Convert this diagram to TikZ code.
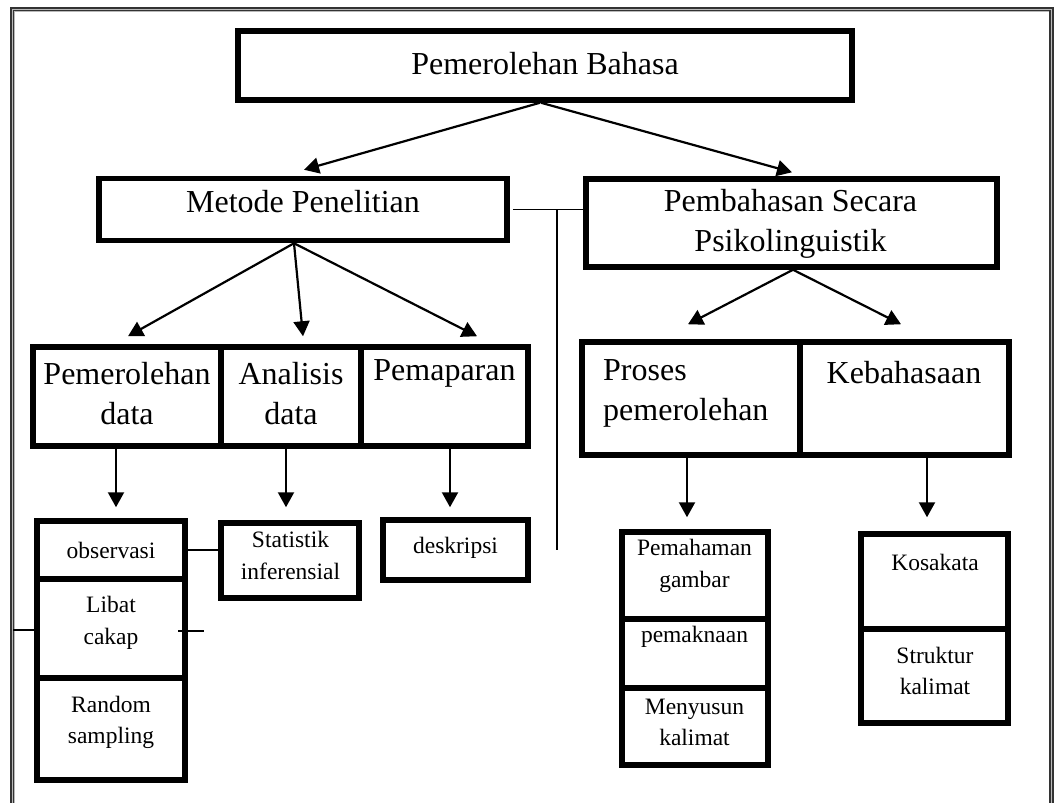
\documentclass[tikz,border=0pt]{standalone}
\usepackage{fontspec}
\setmainfont{Liberation Serif}
\usetikzlibrary{arrows.meta}
\begin{document}
\begin{tikzpicture}[x=1pt,y=-1pt,
  box/.style={draw, line width=5.5pt, inner sep=0pt},
  big/.style={font=\fontsize{32}{40}\selectfont, align=center, inner sep=0pt},
  small/.style={font=\fontsize{23.5}{31.5}\selectfont, align=center, inner sep=0pt},
  arr/.style={line width=2.2pt, -{Triangle[length=15pt,width=16pt]}},
  thinline/.style={line width=1.6pt}]
\clip (0,0) rectangle (1063,803);
\fill[white] (0,0) rectangle (1063,803);
% outer double frame
\draw[line width=4.5pt, gray!55] (12.25,820) -- (12.25,9.25) -- (1051.5,9.25) -- (1051.5,820);
\draw[line width=1.6pt, black!80] (10.8,820) -- (10.8,7.8) -- (1053,7.8) -- (1053,820);
\draw[line width=1.2pt, black!80] (13.8,820) -- (13.8,10.8) -- (1050,10.8) -- (1050,820);

% boxes
\node[box, minimum width=614pt, minimum height=69pt] (title) at (545,65.5) {};
\node[box, minimum width=408pt, minimum height=62pt] (metode) at (303,209.5) {};
\node[box, minimum width=411pt, minimum height=88pt] (pemb) at (791.5,223) {};
\node[box, minimum width=188pt, minimum height=99pt] (pd) at (127,396.5) {};
\node[box, minimum width=140pt, minimum height=99pt] (ad) at (291,396.5) {};
\node[box, minimum width=167pt, minimum height=99pt] (pm) at (444.5,396.5) {};
\node[box, minimum width=218pt, minimum height=113pt] (proses) at (691,398.5) {};
\node[box, minimum width=209pt, minimum height=113pt] (keb) at (904.5,398.5) {};
\node[box, minimum width=148pt, minimum height=58pt] (obs) at (111,550) {};
\node[box, minimum width=148pt, minimum height=99pt] (libat) at (111,628.5) {};
\node[box, minimum width=148pt, minimum height=102pt] (random) at (111,729) {};
\node[box, minimum width=138pt, minimum height=75pt] (stat) at (290,560.5) {};
\node[box, minimum width=145pt, minimum height=60pt] (desk) at (455.5,550) {};
\node[box, minimum width=146pt, minimum height=87pt] (pemah) at (695,575.5) {};
\node[box, minimum width=146pt, minimum height=69pt] (pemak) at (695,653.5) {};
\node[box, minimum width=146pt, minimum height=77pt] (menyu) at (695,726.5) {};
\node[box, minimum width=147pt, minimum height=95pt] (kosa) at (934.5,581.5) {};
\node[box, minimum width=147pt, minimum height=94pt] (strk) at (934.5,676) {};

% texts
\node[big] (t-title) at (545,64) {Pemerolehan Bahasa};
\node[big] (t-metode) at (303,202) {Metode Penelitian};
\node[big] (t-pemb) at (790.5,223.5) {Pembahasan Secara\\Psikolinguistik};
\node[big] (t-pd) at (127,394) {Pemerolehan\\data};
\node[big] (t-ad) at (291,394) {Analisis\\data};
\node[big] (t-pm) at (444.5,373) {Pemaparan};
\node[big, align=left, anchor=west] (t-proses) at (603,393.5) {Proses\\pemerolehan};
\node[big] (t-keb) at (904,373) {Kebahasaan};
\node[small] (t-obs) at (111,550) {observasi};
\node[small] (t-libat) at (111,623) {Libat\\cakap};
\node[small] (t-random) at (111,722.5) {Random\\sampling};
\node[small] (t-stat) at (290.5,555.5) {Statistik\\inferensial};
\node[small] (t-desk) at (455.5,548) {deskripsi};
\node[small] (t-pemah) at (694.5,566) {Pemahaman\\gambar};
\node[small] (t-pemak) at (694.5,637) {pemaknaan};
\node[small] (t-menyu) at (694.5,722.5) {Menyusun\\kalimat};
\node[small] (t-kosa) at (935,562) {Kosakata};
\node[small] (t-strk) at (935,671) {Struktur\\kalimat};

% arrows
\draw[arr] ([xshift=-5pt]title.south) -- ([xshift=1pt,yshift=6pt]metode.north);
\draw[arr] ([xshift=-4pt]title.south) -- ([xshift=0.5pt,yshift=4pt]pemb.north);
\draw[arr] ([xshift=-9pt]metode.south) -- ([xshift=1pt,yshift=8pt]pd.north);
\draw[arr] ([xshift=-9pt]metode.south) -- ([xshift=12pt,yshift=8pt]ad.north);
\draw[arr] ([xshift=-9pt]metode.south) -- ([xshift=32.5pt,yshift=8pt]pm.north);
\draw[arr] ([xshift=1.5pt]pemb.south) -- ([xshift=-3pt,yshift=15pt]proses.north);
\draw[arr] ([xshift=1.5pt]pemb.south) -- ([xshift=-3.5pt,yshift=15pt]keb.north);
\draw[arr] ([xshift=-11pt]pd.south) -- ([xshift=5pt,yshift=11pt]obs.north);
\draw[arr] ([xshift=-5pt]ad.south) -- ([xshift=-4pt,yshift=13pt]stat.north);
\draw[arr] ([xshift=5.5pt]pm.south) -- ([xshift=-5.5pt,yshift=10pt]desk.north);
\draw[arr] ([xshift=-4pt]proses.south) -- ([xshift=-8pt,yshift=12pt]pemah.north);
\draw[arr] ([xshift=22.5pt]keb.south) -- ([xshift=-7.5pt,yshift=14pt]kosa.north);

% plain lines
\coordinate (vtop) at (557,210);
\coordinate (vbot) at (557,550);
\coordinate (frameL) at (13,630);
\coordinate (tickA) at (178,631);
\coordinate (tickB) at (204,631);
\draw[thinline] ([xshift=3pt]metode.east) -- (metode.east -| pemb.west);
\draw[thinline] (vtop) -- (vbot);
\draw[thinline] ([xshift=-3pt]obs.east) -- (obs.east -| stat.west);
\draw[thinline] (frameL) -- (frameL -| libat.west);
\draw[thinline] (tickA) -- (tickB);
\end{tikzpicture}
\end{document}
